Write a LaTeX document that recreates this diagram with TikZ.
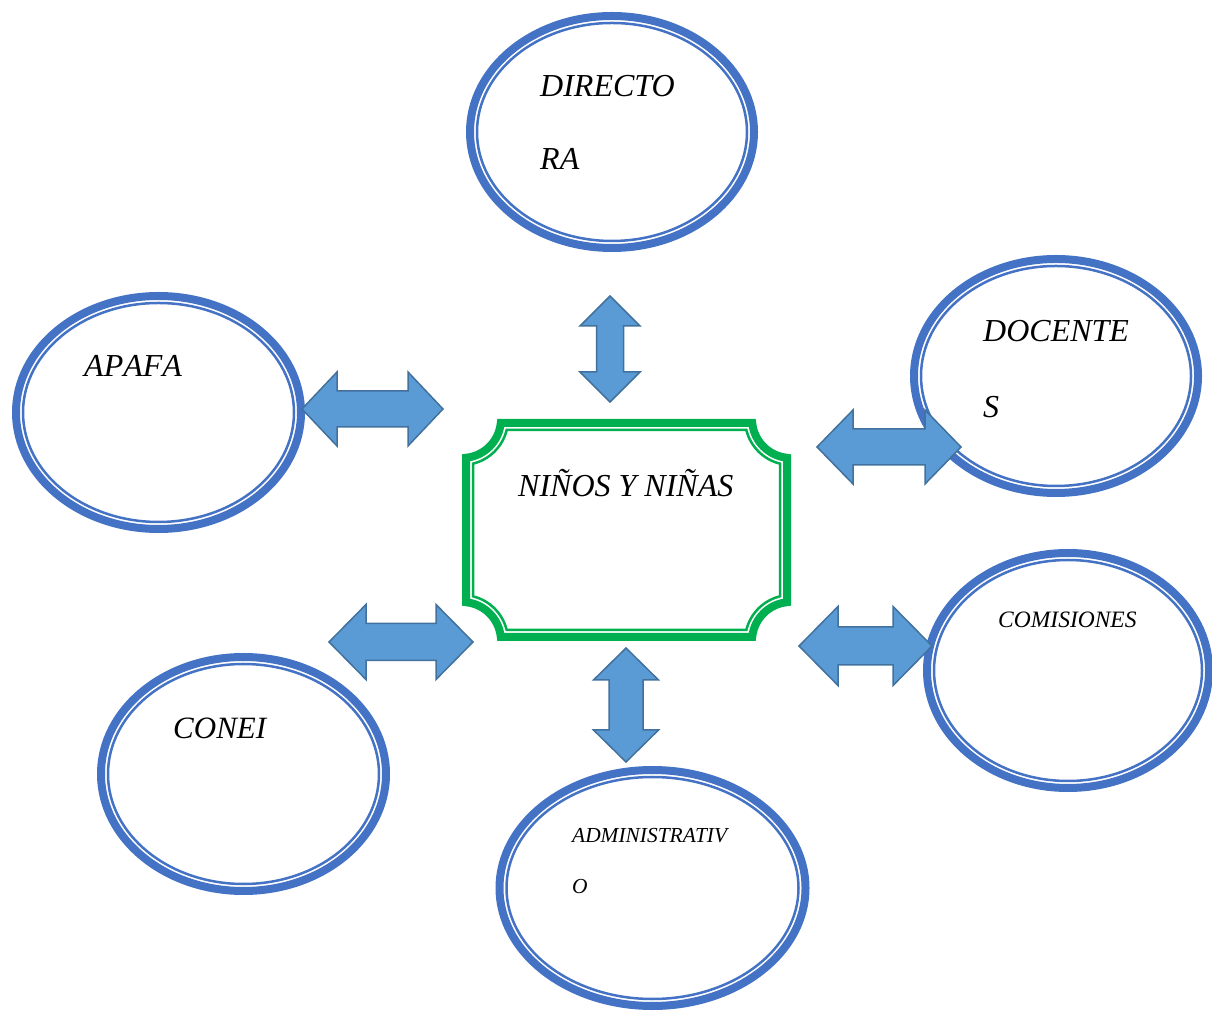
\documentclass[tikz,border=0pt]{standalone}
\usepackage{fontspec}
\setmainfont{Liberation Serif}
\usetikzlibrary{shapes.geometric}

\definecolor{azulborde}{HTML}{4472C4}
\definecolor{azulflecha}{HTML}{5B9BD5}
\definecolor{azulcontorno}{HTML}{41719C}
\definecolor{verde}{HTML}{00B050}

\tikzset{
  organo/.style={ellipse, draw=azulborde, line width=8pt, fill=white, inner sep=0pt},
  anillo/.style={ellipse, draw=azulborde, line width=2.5pt, inner sep=0pt},
  flecha/.style={fill=azulflecha, draw=azulcontorno, line width=1.5pt, line join=miter},
  etiqueta/.style={anchor=base west, inner sep=0pt, align=left},
}

% marco verde con esquinas hacia dentro: #1 sangria, #2 radio, #3 grosor
\newcommand{\marco}[3]{%
  \pgfmathsetmacro\ms{sqrt(#2*#2-#1*#1)}%
  \pgfmathsetmacro\ma{asin(#1/#2)}%
  \draw[draw=verde, line width=#3]
    (626.5,593-#1) -- (791-\ms,593-#1)
    arc[start angle=180+\ma, end angle=270-\ma, radius=#2]
    -- (791-#1,371+\ms)
    arc[start angle=90+\ma, end angle=180-\ma, radius=#2]
    -- (462+\ms,371+#1)
    arc[start angle=\ma, end angle=90-\ma, radius=#2]
    -- (462+#1,593-\ms)
    arc[start angle=270+\ma, end angle=360-\ma, radius=#2]
    -- cycle;}

\begin{document}
\begin{tikzpicture}[x=1pt, y=1pt]

\useasboundingbox (0,0) rectangle (1212,1012);

% organos
\foreach \nm/\cx/\cy/\rx/\ry in {directora/612/880/146/120,
    docentes/1056/636/146/121, apafa/158.5/599.5/146.5/120.5,
    conei/243.5/238/146.5/121, comisiones/1068/341.5/145/121.5,
    administrativo/652.5/124/157/122}
{
  \node [organo, minimum width={2*\rx-8}, minimum height={2*\ry-8}] (\nm) at (\cx,\cy) {};
  \node [anillo, minimum width={2*\rx-22}, minimum height={2*\ry-22}] (\nm-in) at (\cx,\cy) {};
}

% centro
\marco{4}{39}{8pt}
\marco{11}{46}{2.5pt}

% flechas dobles
\foreach \ax/\ay/\rot/\hl/\hw/\sw/\hk in {610/663/90/53/30/13.5/30,
    372.5/603/0/70.5/37/18/35, 889/565/0/72/37/18/36,
    865.5/366/0/66.5/39.5/19/39, 401/370/0/72/37.5/18.5/37,
    626/307/90/57/32.5/17/32}
  \draw [flecha, shift={(\ax,\ay)}, rotate=\rot]
    (-\hl,0) -- (-\hl+\hk,\hw) -- (-\hl+\hk,\sw) -- (\hl-\hk,\sw)
    -- (\hl-\hk,\hw) -- (\hl,0) -- (\hl-\hk,-\hw) -- (\hl-\hk,-\sw)
    -- (-\hl+\hk,-\sw) -- (-\hl+\hk,-\hw) -- cycle;

% textos
\node [etiqueta, font=\itshape\fontsize{32}{73}\selectfont] (ninos) at (518,515) {NIÑOS Y NIÑAS};
\node [etiqueta, font=\itshape\fontsize{32}{73}\selectfont] (t-directora) at (540,842) {DIRECTO\\RA};
\node [etiqueta, font=\itshape\fontsize{32}{76}\selectfont] (t-docentes) at (983,594) {DOCENTE\\S};
\node [etiqueta, font=\itshape\fontsize{32}{38}\selectfont\addfontfeatures{Kerning=Off}] (t-apafa) at (84,635) {APAFA};
\node [etiqueta, font=\itshape\fontsize{31}{38}\selectfont] (t-conei) at (173,273) {CONEI};
\node [etiqueta, font=\itshape\fontsize{23.5}{28}\selectfont] (t-comisiones) at (998,384) {COMISIONES};
\node [etiqueta, font=\itshape\fontsize{21.4}{51}\selectfont] (t-administrativo) at (572,119) {ADMINISTRATIV\\O};

\end{tikzpicture}
\end{document}
